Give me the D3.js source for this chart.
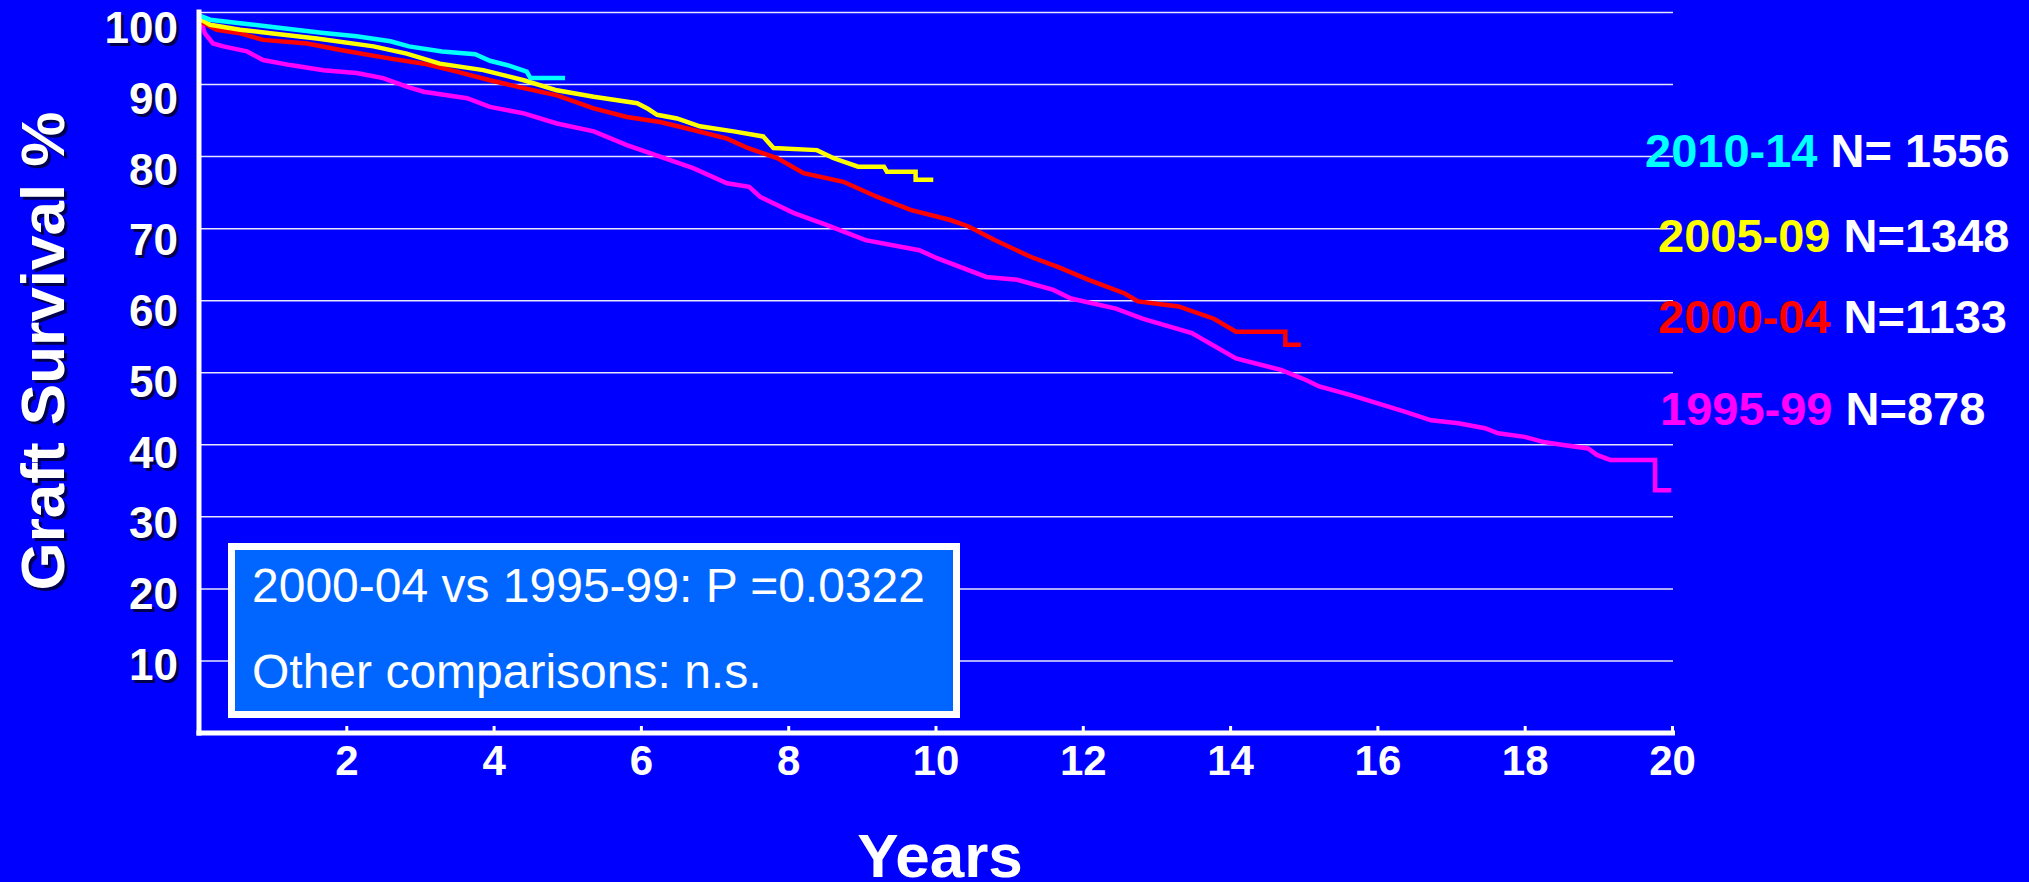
<!DOCTYPE html>
<html>
<head>
<meta charset="utf-8">
<script src="https://cdn.jsdelivr.net/npm/d3@7"></script>
<style>
  html, body { margin: 0; padding: 0; background: #0000ff; }
  svg { display: block; }
</style>
</head>
<body>
<div id="chart"></div>
<script>
// Graft survival (Kaplan-Meier) by transplant era
const xTicks = [2, 4, 6, 8, 10, 12, 14, 16, 18, 20];
const yTicks = [10, 20, 30, 40, 50, 60, 70, 80, 90, 100];

const eras = ['2010-14', '2005-09', '2000-04', '1995-99'];
const counts = ['N= 1556', 'N=1348', 'N=1133', 'N=878'];

// [years, survival %]
const km2010 = [[0, 99.6], [0.15, 99.0], [0.56, 98.5], [1.0, 98.0], [1.66, 97.2], [2.14, 96.7],
  [2.6, 96.0], [2.85, 95.3], [3.3, 94.6], [3.75, 94.2], [3.95, 93.3], [4.22, 92.6],
  [4.45, 91.8], [4.5, 90.9], [4.97, 90.9]];

const km2005 = [[0, 99.2], [0.15, 98.3], [0.56, 97.6], [1.0, 97.1], [1.6, 96.4], [2.37, 95.3],
  [2.82, 94.3], [3.27, 92.9], [3.86, 92.0], [4.41, 90.6], [4.86, 89.2], [5.36, 88.3],
  [5.95, 87.4], [6.1, 86.6], [6.22, 85.8], [6.49, 85.3], [6.8, 84.2], [7.26, 83.5],
  [7.66, 82.8], [7.8, 81.2], [8.39, 80.9], [8.61, 79.8], [8.95, 78.6], [9.3, 78.6],
  [9.34, 77.9], [9.73, 77.9], [9.73, 76.8], [9.97, 76.8]];

const km2000 = [[0, 99.0], [0.05, 98.6], [0.24, 97.6], [0.56, 97.1], [0.87, 96.2], [1.47, 95.7],
  [1.92, 94.8], [2.6, 93.6], [3.05, 92.9], [3.5, 91.8], [3.95, 90.6], [4.41, 89.5],
  [4.86, 88.5], [5.36, 86.7], [5.81, 85.5], [6.26, 84.8], [6.71, 83.7], [7.17, 82.5],
  [7.45, 81.2], [7.85, 79.8], [8.21, 77.7], [8.75, 76.5], [9.21, 74.4], [9.66, 72.6],
  [10.2, 71.2], [10.45, 70.3], [10.81, 68.4], [11.29, 66.1], [11.66, 64.7], [12.08, 62.9],
  [12.57, 61.0], [12.75, 59.9], [13.3, 59.2], [13.78, 57.5], [14.08, 55.7], [14.75, 55.7],
  [14.75, 53.9], [14.96, 53.9]];

const km1995 = [[0, 99.0], [0.03, 98.6], [0.08, 97.1], [0.19, 95.7], [0.33, 95.3], [0.65, 94.6],
  [0.87, 93.4], [1.24, 92.7], [1.69, 92.0], [2.14, 91.6], [2.5, 90.9], [2.82, 89.7],
  [3.05, 89.0], [3.64, 88.1], [3.95, 86.9], [4.41, 86.0], [4.86, 84.6], [5.36, 83.5],
  [5.81, 81.6], [6.26, 80.0], [6.71, 78.4], [7.17, 76.3], [7.47, 75.8], [7.62, 74.4],
  [8.07, 72.2], [8.5, 70.6], [9.05, 68.4], [9.78, 67.0], [10.02, 65.9], [10.69, 63.3],
  [11.11, 62.9], [11.6, 61.5], [11.84, 60.3], [12.45, 58.9], [12.81, 57.5], [13.48, 55.5],
  [14.08, 52.0], [14.69, 50.4], [15.03, 49.0], [15.21, 48.1], [15.64, 46.9], [16.37, 44.6],
  [16.73, 43.4], [17.1, 43.0], [17.46, 42.3], [17.64, 41.6], [18.0, 41.1], [18.25, 40.4],
  [18.5, 40.0], [18.86, 39.5], [18.98, 38.6], [19.16, 37.9], [19.77, 37.9], [19.77, 33.7],
  [19.99, 33.7]];

const curves = [km2010, km2005, km2000, km1995];

const statLines = ['2000-04 vs 1995-99: P =0.0322', 'Other comparisons: n.s.'];

// Layout
const W = 2029, H = 882;
const font = '"Liberation Sans", Arial, Helvetica, sans-serif';
const colors = ['#00ffff', '#ffff00', '#ff0000', '#ff00ff'];
const legendX = [1645, 1658, 1658, 1660];
const legendBase = [167, 252, 333, 425];

const svg = d3.select('#chart')
  .append('svg')
  .attr('width', W)
  .attr('height', H);

svg.append('rect')
  .attr('width', W)
  .attr('height', H)
  .attr('fill', '#0000ff');

const x = d3.scaleLinear().domain([0, 20]).range([199, 1672]);
const y = d3.scaleLinear().domain([0, 100]).range([733, 12.5]);
// tick labels drift a little below their gridlines, more so near the top
const yLabel = d3.scaleLinear().domain([10, 100]).range([y(10) + 3, y(100) + 15]);

// gridlines
svg.append('g')
  .selectAll('line')
  .data(yTicks)
  .enter()
  .append('line')
  .attr('x1', x(0))
  .attr('x2', x(20) + 1)
  .attr('y1', d => y(d))
  .attr('y2', d => y(d))
  .attr('stroke', '#ffffff')
  .attr('stroke-width', 1.5)
  .attr('opacity', 0.9);

// survival curves (oldest first, so the newest sits on top)
const line = d3.line()
  .x(d => x(d[0]))
  .y(d => y(d[1]));

svg.append('g')
  .selectAll('path')
  .data(curves.map((c, i) => ({ c, i })).reverse())
  .enter()
  .append('path')
  .attr('d', d => line(d.c))
  .attr('fill', 'none')
  .attr('stroke', d => colors[d.i])
  .attr('stroke-width', 4.5)
  .attr('stroke-linejoin', 'miter');

// axes lines
svg.append('line')
  .attr('x1', x(0))
  .attr('x2', x(0))
  .attr('y1', y(100) - 3)
  .attr('y2', y(0) + 2.5)
  .attr('stroke', '#ffffff')
  .attr('stroke-width', 5);

const xAxis = d3.axisBottom(x)
  .tickValues(xTicks)
  .tickSize(-7)
  .tickPadding(12)
  .tickFormat(d3.format('d'));

const xg = svg.append('g')
  .attr('transform', `translate(0, ${y(0)})`)
  .call(xAxis);

xg.select('.domain').remove();
xg.selectAll('.tick line')
  .attr('stroke', '#ffffff')
  .attr('stroke-width', 3);
xg.selectAll('.tick text')
  .attr('fill', '#ffffff')
  .style('font-family', font)
  .style('font-weight', 'bold')
  .style('font-size', '42px');

svg.append('line')
  .attr('x1', x(0) - 2.5)
  .attr('x2', x(20) + 3)
  .attr('y1', y(0))
  .attr('y2', y(0))
  .attr('stroke', '#ffffff')
  .attr('stroke-width', 5);

// y tick labels with a dark drop shadow
const yl = svg.append('g')
  .style('font-family', font)
  .style('font-weight', 'bold')
  .style('font-size', '44px')
  .attr('text-anchor', 'end');

yl.selectAll('.shadow')
  .data(yTicks)
  .enter()
  .append('text')
  .attr('class', 'shadow')
  .attr('x', 181)
  .attr('y', d => yLabel(d) + 15.8 + 3)
  .attr('fill', '#000033')
  .attr('opacity', 0.85)
  .text(d => d);

yl.selectAll('.label')
  .data(yTicks)
  .enter()
  .append('text')
  .attr('class', 'label')
  .attr('x', 178)
  .attr('y', d => yLabel(d) + 15.8)
  .attr('fill', '#ffffff')
  .text(d => d);

// axis titles
const yTitle = 'Graft Survival %';
[['#000033', 3], ['#ffffff', 0]].forEach(([fill, off]) => {
  svg.append('text')
    .attr('transform', `translate(${64 + off}, ${351 + off}) rotate(-90)`)
    .attr('text-anchor', 'middle')
    .attr('fill', fill)
    .attr('opacity', off ? 0.85 : 1)
    .style('font-family', font)
    .style('font-weight', 'bold')
    .style('font-size', '62px')
    .text(yTitle);
});

svg.append('text')
  .attr('x', 940)
  .attr('y', 877)
  .attr('text-anchor', 'middle')
  .attr('fill', '#ffffff')
  .style('font-family', font)
  .style('font-weight', 'bold')
  .style('font-size', '62px')
  .text('Years');

// legend
const lg = svg.append('g')
  .style('font-family', font)
  .style('font-weight', 'bold')
  .style('font-size', '47px');

eras.forEach((era, i) => {
  const t = lg.append('text')
    .attr('x', legendX[i])
    .attr('y', legendBase[i]);
  t.append('tspan').attr('fill', colors[i]).text(era);
  t.append('tspan').attr('fill', '#ffffff').text(' ' + counts[i]);
});

// statistics box
svg.append('rect')
  .attr('x', 231.5)
  .attr('y', 546.5)
  .attr('width', 725)
  .attr('height', 168)
  .attr('fill', '#0066ff')
  .attr('stroke', '#ffffff')
  .attr('stroke-width', 7);

svg.append('g')
  .selectAll('text')
  .data(statLines)
  .enter()
  .append('text')
  .attr('x', 252)
  .attr('y', (d, i) => 602 + i * 86)
  .attr('fill', '#ffffff')
  .style('font-family', font)
  .style('font-size', '48px')
  .text(d => d);
</script>
</body>
</html>
